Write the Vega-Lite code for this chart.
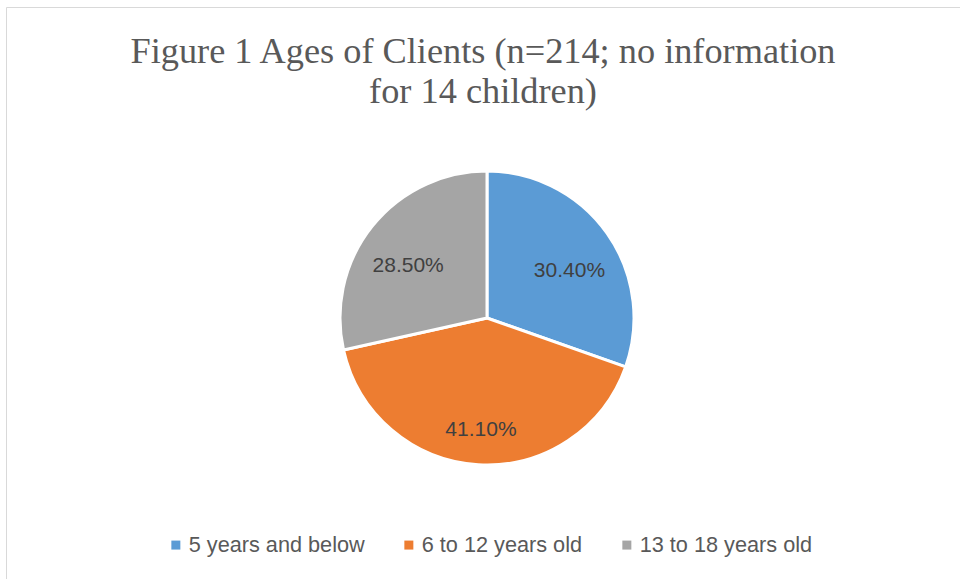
{
  "$schema": "https://vega.github.io/schema/vega-lite/v6.json",
  "width": 954,
  "height": 572,
  "autosize": {"type": "none"},
  "padding": {"left": 6, "top": 7, "right": 0, "bottom": 0},
  "background": "white",
  "view": {"stroke": "#D9D9D9", "strokeWidth": 1, "fill": "white"},
  "title": {
    "text": ["Figure 1 Ages of Clients (n=214; no information", "for 14 children)"],
    "font": "Liberation Serif",
    "fontSize": 36.3,
    "fontWeight": "normal",
    "color": "#595959",
    "lineHeight": 40,
    "anchor": "middle",
    "baseline": "alphabetic",
    "offset": -132
  },
  "data": {
    "values": [
      {"age": "5 years and below", "pct": 0.304, "order": 1},
      {"age": "6 to 12 years old", "pct": 0.411, "order": 2},
      {"age": "13 to 18 years old", "pct": 0.285, "order": 3}
    ]
  },
  "encoding": {
    "theta": {"field": "pct", "type": "quantitative", "stack": true},
    "order": {"field": "order", "type": "quantitative"},
    "color": {
      "field": "age",
      "type": "nominal",
      "sort": ["5 years and below", "6 to 12 years old", "13 to 18 years old"],
      "scale": {
        "domain": ["5 years and below", "6 to 12 years old", "13 to 18 years old"],
        "range": ["#5B9BD5", "#ED7D31", "#A5A5A5"]
      },
      "legend": {
        "title": null,
        "orient": "none",
        "direction": "horizontal",
        "legendX": 159,
        "legendY": 527,
        "symbolType": "square",
        "symbolSize": 81,
        "symbolStrokeWidth": 0,
        "labelFont": "Liberation Sans",
        "labelFontSize": 21.7,
        "labelColor": "#595959",
        "labelOffset": 2,
        "columnPadding": 33,
        "labelLimit": 400
      }
    }
  },
  "layer": [
    {
      "mark": {
        "type": "arc",
        "outerRadius": 147,
        "stroke": "white",
        "strokeWidth": 3,
        "x": {"expr": "width/2 + 4"},
        "y": {"expr": "height/2 + 25"}
      }
    },
    {
      "mark": {
        "type": "text",
        "radius": 101,
        "dy": 11,
        "font": "Liberation Sans",
        "fontSize": 21,
        "x": {"expr": "width/2 + 4"},
        "y": {"expr": "height/2 + 25"}
      },
      "encoding": {
        "text": {"field": "pct", "type": "quantitative", "format": ".2%"},
        "color": {"value": "#404040"}
      }
    }
  ],
  "config": {
    "view": {"stroke": "#D9D9D9", "strokeWidth": 1}
  }
}
